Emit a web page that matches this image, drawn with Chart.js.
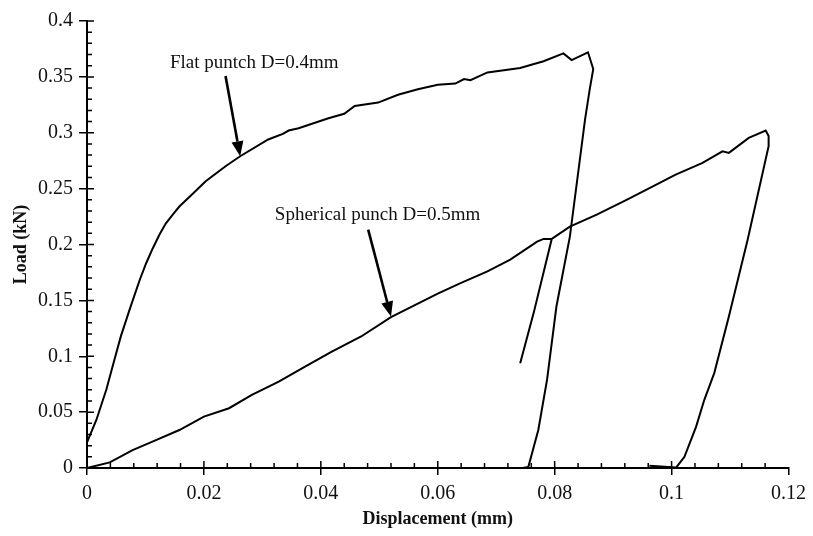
<!DOCTYPE html>
<html>
<head>
<meta charset="utf-8">
<script src="https://cdn.jsdelivr.net/npm/chart.js@4/dist/chart.umd.min.js"></script>
<style>
  html, body { margin: 0; padding: 0; background: #fff; }
  #wrap { width: 813px; height: 536px; position: relative; }
</style>
</head>
<body>
<div id="wrap"><canvas id="punch"></canvas></div>
<script>
// Load-displacement curves of the punch tests

// Axis ticks and labels
const xTicks = [0, 0.02, 0.04, 0.06, 0.08, 0.1, 0.12];
const xTickLabels = ['0', '0.02', '0.04', '0.06', '0.08', '0.1', '0.12'];
const yTicks = [0, 0.05, 0.1, 0.15, 0.2, 0.25, 0.3, 0.35, 0.4];
const yTickLabels = ['0', '0.05', '0.1', '0.15', '0.2', '0.25', '0.3', '0.35', '0.4'];

// Flat punch D=0.4mm (loading then unloading)
const flatX = [0, 0.0016, 0.0033, 0.0047, 0.0058, 0.0073, 0.009, 0.0101, 0.0112, 0.0124, 0.0135,
  0.0147, 0.0158, 0.018, 0.0203, 0.0237, 0.0262, 0.031, 0.0335, 0.0345, 0.0362, 0.0413, 0.0440,
  0.0458, 0.0498, 0.0532, 0.0566, 0.06, 0.0630, 0.0645, 0.0656, 0.0685, 0.0741, 0.0781, 0.0815,
  0.0829, 0.0857, 0.0866, 0.086, 0.0852, 0.0826, 0.0803, 0.0787, 0.0772, 0.0755, 0.0745];
const flatY = [0.023, 0.043, 0.070, 0.097, 0.118, 0.142, 0.168, 0.183, 0.196, 0.209, 0.219,
  0.227, 0.234, 0.245, 0.2566, 0.270, 0.279, 0.294, 0.299, 0.302, 0.304, 0.313, 0.317,
  0.324, 0.327, 0.334, 0.339, 0.343, 0.344, 0.348, 0.347, 0.354, 0.358, 0.364, 0.371,
  0.365, 0.372, 0.357, 0.339, 0.312, 0.207, 0.1445, 0.079, 0.034, 0.001, 0];

// Spherical punch D=0.5mm (partial unload near 0.08 mm, then full unload)
const sphereX = [0, 0.0039, 0.0078, 0.0118, 0.0158, 0.02, 0.0243, 0.0282, 0.0328, 0.0373,
  0.0418, 0.0469, 0.052, 0.06, 0.0639, 0.0685, 0.0724, 0.077, 0.0781, 0.0795, 0.0764,
  0.0741, 0.0764, 0.0795, 0.0826, 0.0872, 0.0923, 0.0968, 0.1007, 0.1053, 0.1087, 0.1098,
  0.1132, 0.1161, 0.1166, 0.1166, 0.113, 0.1098, 0.1073, 0.1056, 0.1042, 0.1022, 0.1008, 0.0962];
const sphereY = [0, 0.005, 0.016, 0.025, 0.034, 0.046, 0.0535, 0.0654, 0.0773, 0.0908,
  0.104, 0.1177, 0.135, 0.156, 0.1655, 0.176, 0.1864, 0.2025, 0.205, 0.205, 0.1386,
  0.0938, 0.1386, 0.205, 0.216, 0.2267, 0.240, 0.252, 0.2625, 0.273, 0.2834, 0.282,
  0.2954, 0.302, 0.297, 0.288, 0.204, 0.1356, 0.0849, 0.061, 0.037, 0.010, 0.0005, 0.002];

// Curve labels with arrows (data coordinates)
const notes = [
  { text: 'Flat puntch D=0.4mm', at: [0.0286, 0.3627], from: [0.0237, 0.3507], to: [0.0262, 0.279] },
  { text: 'Spherical punch D=0.5mm', at: [0.0497, 0.2268], from: [0.0481, 0.2133], to: [0.0520, 0.1356] }
];

const serif = '"Liberation Serif", "Times New Roman", serif';
const ink = '#111';

function pairs(xs, ys) {
  return xs.map((x, i) => ({ x: x, y: ys[i] }));
}

// minor ticks, inner half of the major ticks, curve labels and arrows
const decorPlugin = {
  id: 'decor',
  afterDraw(chart) {
    const { ctx, chartArea: a, scales: { x, y } } = chart;
    ctx.save();
    ctx.strokeStyle = '#000';
    ctx.lineWidth = 1.5;
    ctx.beginPath();
    for (let i = 1; i < 30; i++) {
      const px = x.getPixelForValue(i * 0.004);
      const len = i % 5 === 0 ? 7 : 5;
      ctx.moveTo(px, a.bottom);
      ctx.lineTo(px, a.bottom - len);
    }
    for (let i = 1; i <= 40; i++) {
      const py = y.getPixelForValue(i * 0.01);
      const len = i % 5 === 0 ? 7 : 5;
      ctx.moveTo(a.left, py);
      ctx.lineTo(a.left + len, py);
    }
    ctx.stroke();

    ctx.fillStyle = ink;
    ctx.font = '19px ' + serif;
    ctx.textAlign = 'center';
    ctx.textBaseline = 'middle';
    notes.forEach(n => {
      ctx.fillText(n.text, x.getPixelForValue(n.at[0]), y.getPixelForValue(n.at[1]));
      const x0 = x.getPixelForValue(n.from[0]), y0 = y.getPixelForValue(n.from[1]);
      const x1 = x.getPixelForValue(n.to[0]), y1 = y.getPixelForValue(n.to[1]);
      const ang = Math.atan2(y1 - y0, x1 - x0);
      const head = 15, half = 6;
      const bx = x1 - head * Math.cos(ang), by = y1 - head * Math.sin(ang);
      ctx.lineWidth = 2.6;
      ctx.beginPath();
      ctx.moveTo(x0, y0);
      ctx.lineTo(bx, by);
      ctx.stroke();
      ctx.beginPath();
      ctx.moveTo(x1, y1);
      ctx.lineTo(bx + half * Math.sin(ang), by - half * Math.cos(ang));
      ctx.lineTo(bx - half * Math.sin(ang), by + half * Math.cos(ang));
      ctx.closePath();
      ctx.fillStyle = '#000';
      ctx.fill();
      ctx.fillStyle = ink;
    });
    ctx.restore();
  }
};

const curveStyle = {
  borderColor: '#000',
  borderWidth: 2,
  pointRadius: 0,
  tension: 0,
  fill: false,
  clip: false
};

new Chart(document.getElementById('punch'), {
  type: 'line',
  data: {
    datasets: [
      Object.assign({ label: 'Flat punch D=0.4mm', data: pairs(flatX, flatY) }, curveStyle),
      Object.assign({ label: 'Spherical punch D=0.5mm', data: pairs(sphereX, sphereY) }, curveStyle)
    ]
  },
  options: {
    responsive: true,
    maintainAspectRatio: false,
    animation: false,
    layout: { padding: { left: 0, right: 20, top: 21, bottom: 0 } },
    plugins: {
      legend: { display: false },
      tooltip: { enabled: false }
    },
    scales: {
      x: {
        type: 'linear',
        min: 0,
        max: 0.12,
        afterBuildTicks: s => { s.ticks = xTicks.map(v => ({ value: v })); },
        afterFit: s => { s.height = 68; },
        ticks: {
          callback: (v, i) => xTickLabels[i],
          autoSkip: false,
          maxRotation: 0,
          padding: 7,
          color: ink,
          font: { family: serif, size: 20 }
        },
        grid: { drawOnChartArea: false, tickLength: 7, color: '#000', lineWidth: 1.5 },
        border: { color: '#000', width: 2 },
        title: {
          display: true,
          text: 'Displacement (mm)',
          color: ink,
          font: { family: serif, size: 18, weight: 'bold' },
          padding: { top: 0, bottom: 6 }
        }
      },
      y: {
        type: 'linear',
        min: 0,
        max: 0.4,
        afterBuildTicks: s => { s.ticks = yTicks.map(v => ({ value: v })); },
        afterFit: s => { s.width = 87; },
        ticks: {
          callback: (v, i) => yTickLabels[i],
          autoSkip: false,
          padding: 6,
          color: ink,
          font: { family: serif, size: 20 }
        },
        grid: { drawOnChartArea: false, tickLength: 8, color: '#000', lineWidth: 1.5 },
        border: { color: '#000', width: 2 },
        title: {
          display: true,
          text: 'Load (kN)',
          color: ink,
          font: { family: serif, size: 18, weight: 'bold' },
          padding: { top: 11, bottom: 0 }
        }
      }
    }
  },
  plugins: [decorPlugin]
});
</script>
</body>
</html>
